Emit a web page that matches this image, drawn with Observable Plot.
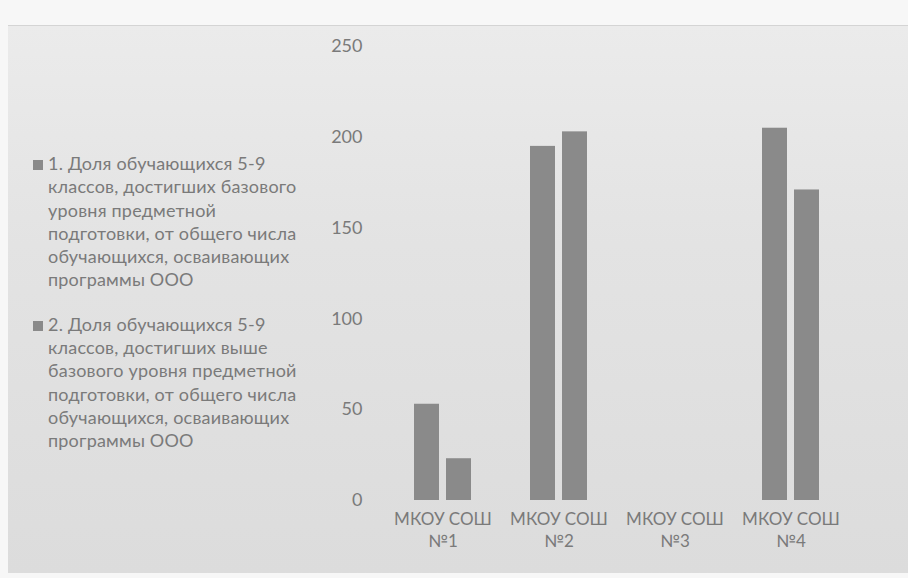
<!DOCTYPE html>
<html><head><meta charset="utf-8">
<script src="https://cdn.jsdelivr.net/npm/d3@7"></script>
<script src="https://cdn.jsdelivr.net/npm/@observablehq/plot@0.6"></script>
<style>
html,body{margin:0;padding:0;}
body{width:908px;height:578px;position:relative;overflow:hidden;background:#f7f7f7;
 font-family:Lato,"Open Sans",sans-serif;}
#panel{position:absolute;left:8px;top:25px;width:900px;height:547px;
 background:linear-gradient(180deg,#ebebeb 0%,#e3e3e3 40%,#dcdcdc 100%);border-top:1px solid #d4d4d4;}
#chart{position:absolute;left:0;top:0;}
#legend{position:absolute;left:30px;top:152px;width:300px;color:#7a7a7a;font-size:18px;line-height:23.3px;letter-spacing:0.2px;}
.item{position:relative;padding-left:18px;margin-bottom:21px;}
.sw{position:absolute;left:3px;top:8px;width:10px;height:10px;background:#8a8a8a;}
</style></head>
<body>
<div id="panel"></div>
<div id="chart"></div>
<div id="legend"></div>
<script>
const schools = ["МКОУ СОШ\n№1", "МКОУ СОШ\n№2", "МКОУ СОШ\n№3", "МКОУ СОШ\n№4"];
const seriesNames = [
  "1. Доля обучающихся 5-9\nклассов, достигших базового\nуровня предметной\nподготовки, от общего числа\nобучающихся, осваивающих\nпрограммы ООО",
  "2. Доля обучающихся 5-9\nклассов, достигших выше\nбазового уровня предметной\nподготовки, от общего числа\nобучающихся, осваивающих\nпрограммы ООО"
];
const series1 = [53, 195, 0, 205];
const series2 = [23, 203, 0, 171];
const yTicks = [0, 50, 100, 150, 200, 250];

const rows = [];
schools.forEach((s, i) => {
  rows.push({school: s, series: "1", value: series1[i]});
  rows.push({school: s, series: "2", value: series2[i]});
});

const plot = Plot.plot({
  width: 908, height: 578,
  marginLeft: 414, marginRight: 89, marginTop: 46, marginBottom: 78,
  style: {background: "transparent", fontFamily: "Lato, 'Open Sans', sans-serif", fontSize: "17px", color: "#7a7a7a"},
  y: {domain: [0, 250], ticks: yTicks, label: null},
  fx: {domain: schools, paddingInner: 0.51, paddingOuter: 0, label: null},
  x: {domain: ["1", "2"], paddingInner: 0.22, paddingOuter: 0, axis: null},
  marks: [
    Plot.barY(rows, {fx: "school", x: "series", y: "value", fill: "#8a8a8a"}),
    Plot.axisY({ticks: yTicks, tickSize: 0, tickPadding: 52, label: null, fill: "#7a7a7a", fontSize: 18}),
    Plot.axisFx({anchor: "bottom", tickSize: 0, tickPadding: 9, label: null, fill: "#7a7a7a", lineHeight: 1.3})
  ]
});
document.getElementById("chart").appendChild(plot);

const leg = document.getElementById("legend");
seriesNames.forEach(n => {
  const d = document.createElement("div");
  d.className = "item";
  d.innerHTML = '<span class="sw"></span>' + n.split("\n").join("<br>");
  leg.appendChild(d);
});
</script>
</body></html>
